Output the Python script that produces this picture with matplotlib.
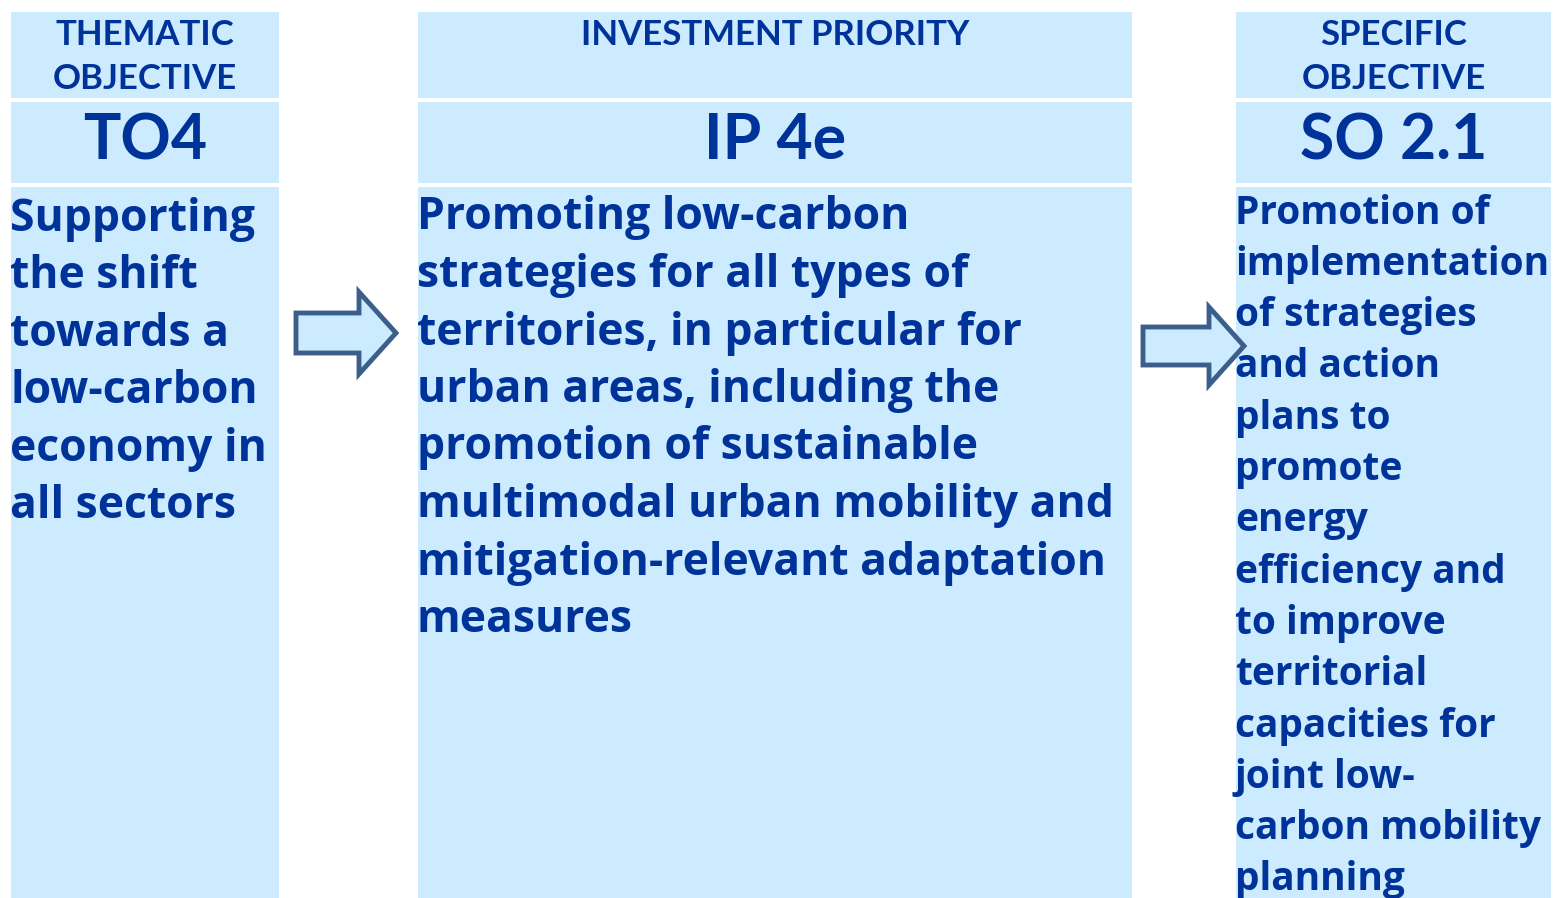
import matplotlib
matplotlib.use("Agg")
import matplotlib.pyplot as plt
from matplotlib.patches import Rectangle, Polygon

# column contents
headers = [["THEMATIC", "OBJECTIVE"], ["INVESTMENT PRIORITY"], ["SPECIFIC", "OBJECTIVE"]]
codes = ["TO4", "IP 4e", "SO 2.1"]
to_lines = ["Supporting", "the shift", "towards a", "low-carbon", "economy in", "all sectors"]
ip_lines = ["Promoting low-carbon", "strategies for all types of",
            "territories, in particular for", "urban areas, including the",
            "promotion of sustainable", "multimodal urban mobility and",
            "mitigation-relevant adaptation", "measures"]
so_lines = ["Promotion of", "implementation", "of strategies", "and action",
            "plans to", "promote", "energy", "efficiency and", "to improve",
            "territorial", "capacities for", "joint low-", "carbon mobility",
            "planning"]

fill = "#cdebfe"
navy = "#003399"
edge = "#3b5e8b"
head_font = "Lato"
body_font = "Open Sans"

fig = plt.figure(figsize=(15.53, 8.98), dpi=100)
ax = fig.add_axes([0, 0, 1, 1])
ax.set_xlim(0, 1553)
ax.set_ylim(898, 0)
ax.axis("off")

cols = [(11, 279), (418, 1132), (1236, 1551)]
rows = [(12, 98), (102, 183), (187, 898)]
for x0, x1 in cols:
    for y0, y1 in rows:
        ax.add_patch(Rectangle((x0, y0), x1 - x0, y1 - y0, facecolor=fill, edgecolor="none"))

for (x0, x1), hdr, code in zip(cols, headers, codes):
    xc = (x0 + x1) / 2
    for i, h in enumerate(hdr):
        ax.text(xc, 35 + i * 44, h, ha="center", va="center", fontsize=25,
                fontweight="bold", color=navy, family=head_font)
    ax.text(xc, 141, code, ha="center", va="center", fontsize=45,
            fontweight="bold", color=navy, family=head_font)

bodies = [(to_lines, 219, 57.5, 32), (ip_lines, 218, 57.5, 32), (so_lines, 213, 51.3, 28)]
for (x0, x1), (lines, ystart, step, fs) in zip(cols, bodies):
    for i, ln in enumerate(lines):
        ax.text(x0 - 1, ystart + i * step, ln, ha="left", va="center", fontsize=fs,
                fontweight="bold", color=navy, family=body_font)

# block arrows
def block_arrow(xl, xh, xt, yc, hb, hh):
    pts = [(xl, yc - hb), (xh, yc - hb), (xh, yc - hh), (xt, yc), (xh, yc + hh),
           (xh, yc + hb), (xl, yc + hb)]
    ax.add_patch(Polygon(pts, closed=True, facecolor=fill, edgecolor=edge, linewidth=3.5, zorder=5))

block_arrow(296, 359, 396, 333, 20, 41)
block_arrow(1143, 1209, 1244, 346, 19, 39)

fig.savefig("out.png", dpi=100)
